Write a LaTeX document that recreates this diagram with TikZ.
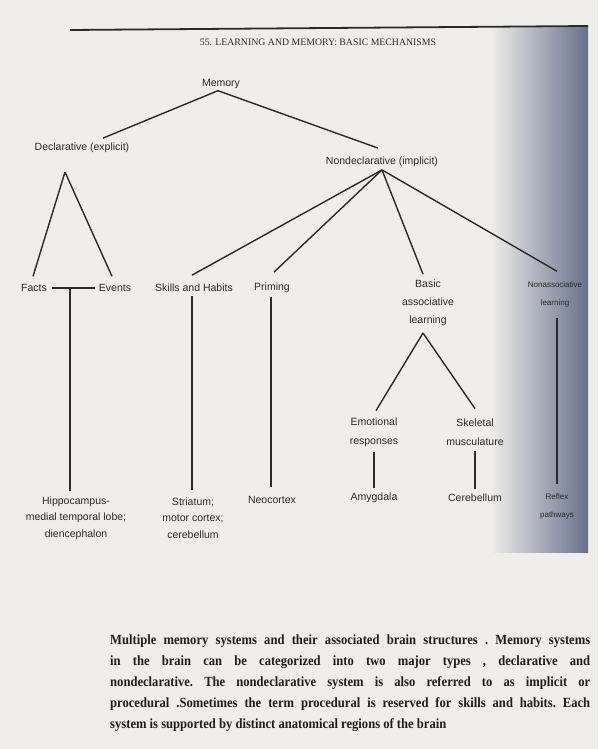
\documentclass[tikz,border=0pt]{standalone}
\usepackage{fontspec}
\newfontfamily\labfont{Liberation Sans}
\newfontfamily\serfont{Liberation Serif}
\newfontfamily\capfont[FakeStretch=0.9]{Liberation Serif}
\usetikzlibrary{calc}
\definecolor{bgc}{HTML}{F0EEEA}
\definecolor{txt}{HTML}{2A2A2A}
\definecolor{captxt}{HTML}{1E1E1E}
\definecolor{ln}{HTML}{2A2A2A}
\definecolor{shd}{HTML}{67708C}
\definecolor{shm}{HTML}{D5D7DE}
\begin{document}
\begin{tikzpicture}[x=1pt,y=-1pt,
  lab/.style={font=\labfont\fontsize{10.5}{18}\selectfont, text=txt, inner sep=0pt, outer sep=0pt, align=center},
  tightlab/.style={lab, font=\labfont\fontsize{10.5}{16.5}\selectfont},
  smalllab/.style={lab, font=\labfont\fontsize{8}{18}\selectfont},
  conn/.style={draw=ln, line width=1.4pt}]
\useasboundingbox (0,0) rectangle (598,749);
\fill[bgc] (0,0) rectangle (598,749);
\shade[left color=bgc, middle color=shm, right color=shd] (490,27) rectangle (588,552);

% header
\coordinate (rl) at (70,30);
\coordinate (rr) at (588,26);
\draw[line width=1.8pt, ln] (rl) -- (rr);
\node[font=\serfont\fontsize{9.8}{12}\selectfont, text=txt, inner sep=0pt] (hdr) at (318,42) {55. LEARNING AND MEMORY: BASIC MECHANISMS};

% nodes
\node[lab] (mem) at (221,84) {Memory};
\node[lab] (decl) at (82,148) {Declarative (explicit)};
\node[lab] (nondecl) at (382,162) {Nondeclarative (implicit)};
\node[lab] (facts) at (34,288) {Facts};
\node[lab] (events) at (115,288) {Events};
\node[lab] (skills) at (194,288) {Skills and Habits};
\node[lab] (priming) at (272,288) {Priming};
\node[lab] (basic) at (428,303) {Basic\\associative\\learning};
\node[smalllab] (nonassoc) at (555,294) {Nonassociative\\learning};
\node[tightlab] (hippo) at (76,518) {Hippocampus-\\medial temporal lobe;\\diencephalon};
\node[tightlab] (striatum) at (193,518) {Striatum;\\motor cortex;\\cerebellum};
\node[lab] (neocortex) at (272,500) {Neocortex};
\node[lab, font=\labfont\fontsize{10.5}{19}\selectfont] (emot) at (374,432) {Emotional\\responses};
\node[lab, font=\labfont\fontsize{10.5}{19}\selectfont] (skel) at (475,432) {Skeletal\\musculature};
\node[lab] (amyg) at (374,498) {Amygdala};
\node[lab] (cereb) at (475,498) {Cerebellum};
\node[smalllab] (reflex) at (557,506) {Reflex\\pathways};

% connectors
\coordinate (dtop) at (65,172);
\coordinate (fe) at (70,289);
\coordinate (btop) at (423,333);

\draw[conn] ([xshift=-3pt,yshift=-2pt]mem.south) -- ([xshift=21pt,yshift=5pt]decl.north);
\draw[conn] ([xshift=-3pt,yshift=-2pt]mem.south) -- ([xshift=-4pt,yshift=9pt]nondecl.north);

\draw[conn] (dtop) -- ([xshift=-1pt,yshift=8pt]facts.north);
\draw[conn] (dtop) -- ([xshift=-3pt,yshift=8pt]events.north);
\draw[conn] ([xshift=5pt]facts.east) -- ([xshift=-4pt]events.west);
\draw[conn] (fe) -- ([yshift=6pt]hippo.north -| fe);

\draw[conn] ([yshift=-3pt]nondecl.south) -- ([xshift=-2pt,yshift=9pt]skills.north);
\draw[conn] ([yshift=-3pt]nondecl.south) -- ([xshift=2pt,yshift=11pt]priming.north);
\draw[conn] ([yshift=-3pt]nondecl.south) -- ([xshift=-5pt,yshift=6pt]basic.north);
\draw[conn] ([yshift=-3pt]nondecl.south) -- ([xshift=2pt,yshift=10pt]nonassoc.north);

\draw[conn] ([xshift=-2pt,yshift=-4pt]skills.south) -- ([xshift=-1pt,yshift=8pt]striatum.north);
\draw[conn] ([xshift=-1pt,yshift=-4pt]priming.south) -- ([xshift=-1pt,yshift=9pt]neocortex.north);

\draw[conn] (btop) -- ([xshift=2pt,yshift=7pt]emot.north);
\draw[conn] (btop) -- ([yshift=10pt]skel.north);
\draw[conn] ([yshift=-6pt]emot.south) -- ([yshift=5pt]amyg.north);
\draw[conn] ([yshift=-6pt]skel.south) -- ([yshift=5pt]cereb.north);
\draw[conn] ([xshift=2pt,yshift=-11pt]nonassoc.south) -- ([yshift=9pt]reflex.north);

% caption
\node[anchor=north west, inner sep=0pt, text width=480pt, align=justify,
      font=\capfont\bfseries\frenchspacing\fontsize{14}{21}\selectfont, text=captxt] (cap) at (110,635)
{Multiple memory systems and their associated brain structures . Memory systems\linebreak
in the brain can be categorized into two major types , declarative and\linebreak
nondeclarative. The nondeclarative system is also referred to as implicit or\linebreak
procedural .Sometimes the term procedural is reserved for skills and habits. Each\linebreak
system is supported by distinct anatomical regions of the brain};
\end{tikzpicture}
\end{document}
